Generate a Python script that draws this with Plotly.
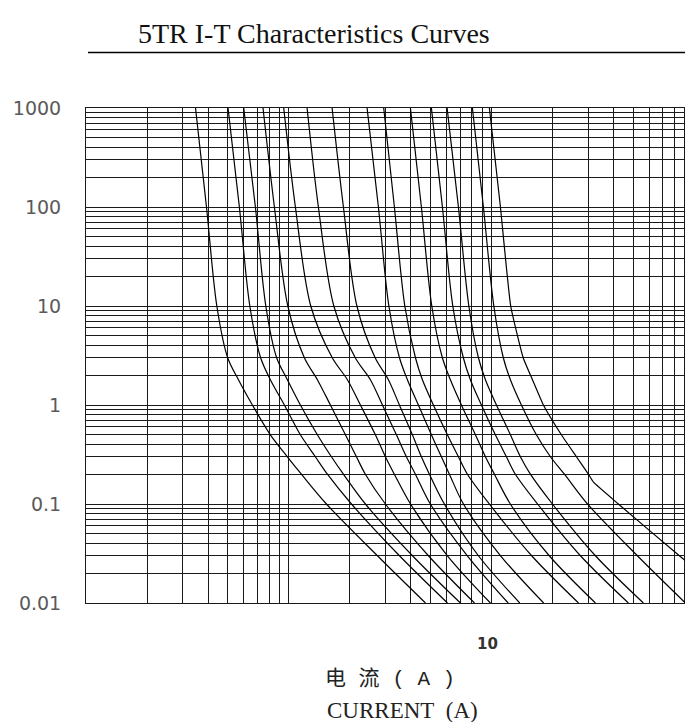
import plotly.graph_objects as go

# ---- data (current in A, time in s) ----
TIMES = [1000, 100, 10, 3, 1.8, 1, 0.5, 0.3, 0.2, 0.1, 0.03, 0.01]
TIMES_LAST = [1000, 100, 10, 3, 1.8, 1, 0.5, 0.3, 0.2, 0.166, 0.1, 0.03, 0.01]

CURVE_01 = [0.347, 0.393, 0.442, 0.500, 0.565, 0.662, 0.812, 0.985, 1.155, 1.535, 2.74, 4.73]
CURVE_02 = [0.502, 0.571, 0.643, 0.727, 0.812, 0.952, 1.142, 1.354, 1.552, 2.04, 3.52, 6.07]
CURVE_03 = [0.600, 0.685, 0.771, 0.872, 0.985, 1.142, 1.385, 1.624, 1.862, 2.39, 4.08, 7.03]
CURVE_04 = [0.747, 0.850, 0.990, 1.195, 1.385, 1.606, 1.905, 2.158, 2.389, 3.00, 4.89, 8.25]
CURVE_05 = [0.945, 1.079, 1.285, 1.640, 1.948, 2.258, 2.677, 3.00, 3.32, 3.99, 6.07, 9.89]
CURVE_06 = [1.232, 1.401, 1.670, 2.130, 2.530, 2.900, 3.399, 3.808, 4.218, 5.00, 7.61, 12.1]
CURVE_07 = [1.637, 1.862, 2.170, 2.670, 3.104, 3.517, 4.076, 4.514, 4.945, 5.86, 8.63, 13.8]
CURVE_08 = [2.436, 2.770, 3.120, 3.520, 3.851, 4.364, 5.058, 5.666, 6.206, 7.28, 11.1, 18.1]
CURVE_09 = [2.943, 3.322, 3.740, 4.220, 4.567, 5.174, 6.066, 6.875, 7.614, 9.77, 15.8, 26.9]
CURVE_10 = [3.985, 4.514, 5.080, 5.730, 6.277, 7.112, 8.340, 9.342, 10.35, 12.4, 19.3, 32.6]
CURVE_11 = [5.058, 5.732, 6.450, 7.270, 7.876, 8.926, 10.46, 11.86, 13.13, 16.9, 27.5, 47.4]
CURVE_12 = [6.046, 6.875, 7.740, 8.630, 9.342, 10.59, 12.41, 13.90, 15.57, 20.0, 32.6, 56.2]
CURVE_13 = [8.059, 9.131, 10.28, 11.45, 12.41, 14.06, 16.67, 19.55, 22.92, 29.8, 52.5, 90.6]
CURVE_14 = [9.774, 11.08, 12.45, 14.35, 15.94, 18.05, 22.14, 26.27, 30.10, 31.9, 42.3, 84.6, 165.0]

CURVES = [CURVE_01, CURVE_02, CURVE_03, CURVE_04, CURVE_05, CURVE_06, CURVE_07,
          CURVE_08, CURVE_09, CURVE_10, CURVE_11, CURVE_12, CURVE_13]

MANTISSAS = [1, 2, 3, 4, 5, 6, 7, 8, 9]
X_DECADES = [0.1, 1, 10]
Y_DECADES = [0.01, 0.1, 1, 10, 100]
X_TICK_LABELS = {10: "10"}
Y_TICK_LABELS = {0.01: "0.01", 0.1: "0.1", 1: "1", 10: "10", 100: "100", 1000: "1000"}

TITLE = "5TR I-T Characteristics Curves"
XTITLE_CN = "电 流 ( A )"
XTITLE_EN = "CURRENT\u00a0\u00a0(A)"

# ---- grid values (log decades with 2..9 sub-lines) ----
x_grid = [round(d * m, 6) for d in X_DECADES for m in MANTISSAS]
y_grid = [round(d * m, 6) for d in Y_DECADES for m in MANTISSAS] + [1000]
x_text = [X_TICK_LABELS.get(v, "") for v in x_grid]
y_text = [Y_TICK_LABELS.get(v, "") for v in y_grid]

fig = go.Figure()
line_style = dict(color="black", width=1.2, shape="spline", smoothing=0.9)
for c in CURVES:
    fig.add_trace(go.Scatter(x=c, y=TIMES, mode="lines", line=line_style,
                             hoverinfo="skip", showlegend=False))
fig.add_trace(go.Scatter(x=CURVE_14, y=TIMES_LAST, mode="lines",
                         line=dict(color="black", width=1.2, shape="spline", smoothing=0.4),
                         hoverinfo="skip", showlegend=False))

# the page body adds an 8px offset; figure sized so the plot lands where the reference has it
OFF = 8
W, H = 693 - OFF, 722 - OFF
ML, MR, MT, MB = 78, 0, 100, 119
plot_w = W - ML - MR
plot_h = H - MT - MB

def px_x(px):
    return (px - OFF - ML) / plot_w

def px_y(py):
    return (H - MB - (py - OFF)) / plot_h

fig.update_layout(
    width=W, height=H, autosize=False,
    margin=dict(l=ML, r=MR, t=MT, b=MB, pad=0),
    paper_bgcolor="white", plot_bgcolor="white",
    showlegend=False,
    xaxis=dict(
        type="log", range=[-1, -1 + plot_w / 202.7],
        tickmode="array", tickvals=x_grid, ticktext=x_text,
        showgrid=True, gridcolor="#1a1a1a", gridwidth=1,
        showline=True, linecolor="#1a1a1a", linewidth=1, mirror=True,
        ticks="outside", ticklen=27, tickcolor="rgba(0,0,0,0)",
        ticklabelshift=-4,
        tickfont=dict(family="DejaVu Sans", size=15, color="#333", weight="bold"),
        zeroline=False, fixedrange=True,
    ),
    yaxis=dict(
        type="log", range=[-2, 3],
        tickmode="array", tickvals=y_grid, ticktext=y_text,
        showgrid=True, gridcolor="#1a1a1a", gridwidth=1,
        showline=True, linecolor="#1a1a1a", linewidth=1, mirror=False,
        ticks="outside", ticklen=20, tickcolor="rgba(0,0,0,0)",
        tickfont=dict(family="DejaVu Sans", size=19, color="#5a5a5a"),
        zeroline=False, fixedrange=True,
    ),
    annotations=[
        dict(text=TITLE, xref="paper", yref="paper", x=px_x(313.5), y=px_y(33.5),
             xanchor="center", yanchor="middle", showarrow=False,
             font=dict(family="Liberation Serif", size=28, color="#111")),
        dict(text=XTITLE_CN, xref="paper", yref="paper", x=px_x(390), y=px_y(679),
             xanchor="center", yanchor="middle", showarrow=False,
             font=dict(family="Liberation Mono, Noto Sans CJK SC", size=21, color="#222")),
        dict(text=XTITLE_EN, xref="paper", yref="paper", x=px_x(402), y=px_y(710),
             xanchor="center", yanchor="middle", showarrow=False,
             font=dict(family="Liberation Serif", size=23, color="#222")),
    ],
    shapes=[
        dict(type="line", xref="paper", yref="paper", x0=px_x(88), x1=1.0,
             y0=px_y(52.4), y1=px_y(52.4), line=dict(color="black", width=1.5)),
    ],
)

fig.write_html("out.html")
